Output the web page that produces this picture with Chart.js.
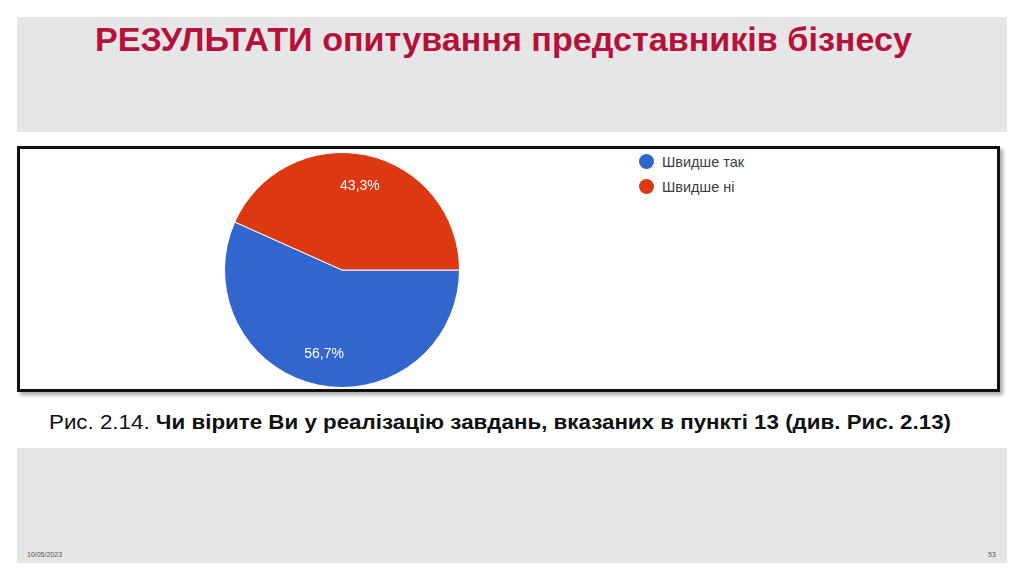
<!DOCTYPE html>
<html>
<head>
<meta charset="utf-8">
<script src="https://cdn.jsdelivr.net/npm/chart.js@4"></script>
<style>
  html, body { margin:0; padding:0; background:#fff; width:1024px; height:581px; overflow:hidden; font-family:"Liberation Sans", Arial, sans-serif; }
  .band { position:absolute; left:17px; width:990px; background:#e7e6e6; }
  #top { top:17px; height:115px; }
  #bottom { top:448px; height:115px; }
  #title { position:absolute; left:95px; top:21px; font-size:33px; font-weight:bold; color:#b5123b; white-space:nowrap; transform-origin:0 0; }
  #box { position:absolute; left:17px; top:146px; width:977px; height:240px; border:3px solid #111; background:#fff; box-shadow:3px 3px 4px rgba(0,0,0,0.35); }
  #pieWrap { position:absolute; left:224px; top:152px; width:236px; height:236px; }
  #legend { position:absolute; left:639px; top:149px; font-size:14.5px; color:#3c3c3c; }
  .li { height:25px; display:flex; align-items:center; }
  .dot { width:15px; height:15px; border-radius:50%; margin-right:8px; }
  #caption { position:absolute; left:49px; top:411px; font-size:20px; color:#111; white-space:nowrap; transform-origin:0 0; }
  #date { position:absolute; left:27px; top:551px; font-size:7px; color:#555; }
  #page { position:absolute; left:988px; top:551px; font-size:7px; color:#555; }
</style>
</head>
<body>
<div class="band" id="top"></div>
<div class="band" id="bottom"></div>
<div id="title">РЕЗУЛЬТАТИ опитування представників бізнесу</div>
<div id="box"></div>
<div id="pieWrap"><canvas id="c"></canvas></div>
<div id="legend"></div>
<div id="caption">Рис. 2.14. <b>Чи вірите Ви у реалізацію завдань, вказаних в пункті 13 (див. Рис. 2.13)</b></div>
<div id="date">10/05/2023</div>
<div id="page">53</div>
<script>
const categories = ["Швидше так", "Швидше ні"];
const values = [56.7, 43.3];
const sliceColors = ["#3366cc", "#dc3912"];

// fit text widths to the reference layout
function fitWidth(id, target) {
  const el = document.getElementById(id);
  const w = el.getBoundingClientRect().width;
  if (w > 0) el.style.transform = 'scaleX(' + (target / w) + ')';
}
fitWidth('title', 817);
fitWidth('caption', 902);

// legend
const lg = document.getElementById('legend');
categories.forEach((c, i) => {
  const d = document.createElement('div'); d.className = 'li';
  const dot = document.createElement('div'); dot.className = 'dot'; dot.style.background = sliceColors[i];
  const t = document.createElement('span'); t.textContent = c;
  d.appendChild(dot); d.appendChild(t); lg.appendChild(d);
});

const labelPlugin = {
  id: 'sliceLabels',
  afterDatasetsDraw(chart) {
    const ctx = chart.ctx;
    const meta = chart.getDatasetMeta(0);
    ctx.save();
    ctx.fillStyle = '#fff';
    ctx.font = '14px "Liberation Sans", Arial, sans-serif';
    ctx.textAlign = 'center';
    ctx.textBaseline = 'middle';
    meta.data.forEach((arc, i) => {
      const p = arc.getProps(['x','y','startAngle','endAngle','outerRadius'], true);
      const mid = (p.startAngle + p.endAngle) / 2;
      const r = p.outerRadius * 0.73;
      ctx.fillText(values[i].toFixed(1).replace('.', ',') + '%', p.x + Math.cos(mid) * r, p.y + Math.sin(mid) * r);
    });
    ctx.restore();
  }
};

new Chart(document.getElementById('c'), {
  type: 'pie',
  data: {
    labels: categories,
    datasets: [{ data: values, backgroundColor: sliceColors, borderColor: '#ffffff', borderWidth: 1 }]
  },
  options: {
    responsive: true,
    maintainAspectRatio: false,
    animation: false,
    rotation: 90,
    layout: { padding: 0 },
    plugins: { legend: { display: false }, tooltip: { enabled: false } }
  },
  plugins: [labelPlugin]
});
</script>
</body>
</html>
